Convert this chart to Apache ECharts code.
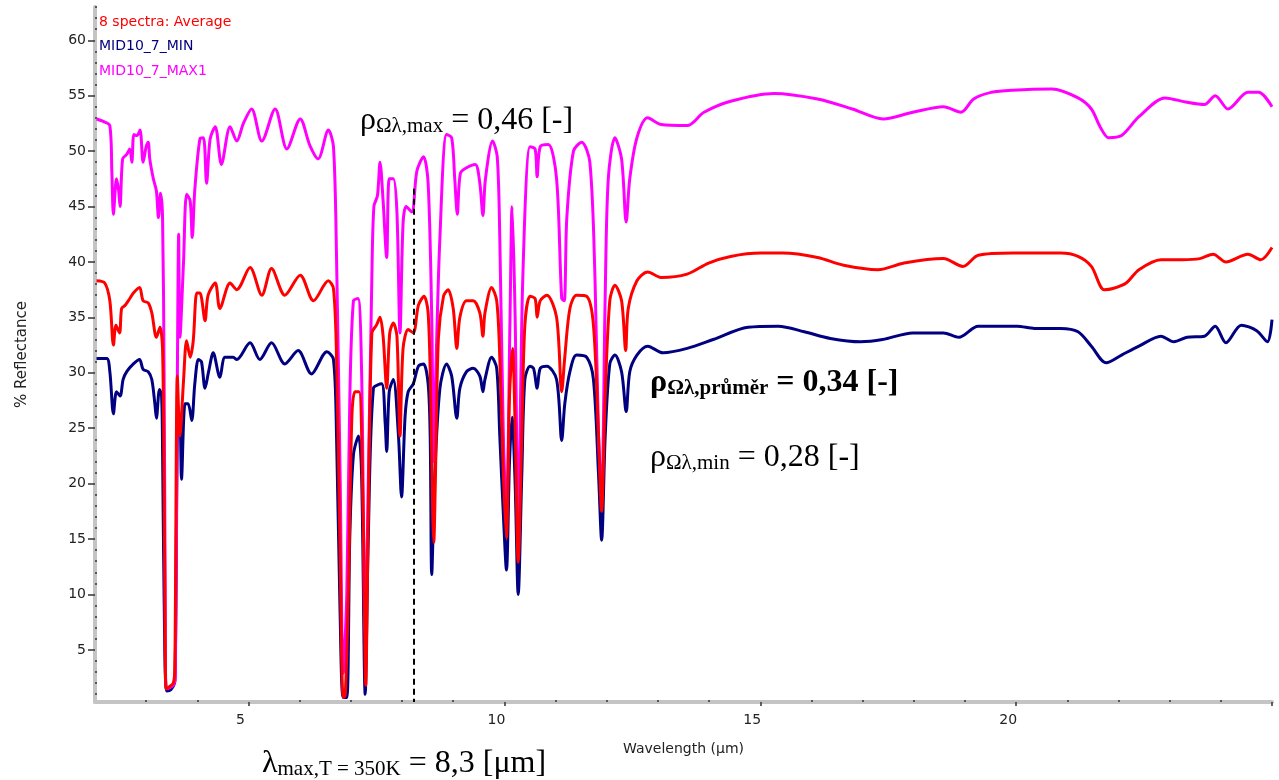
<!DOCTYPE html>
<html>
<head>
<meta charset="utf-8">
<script src="https://cdn.jsdelivr.net/npm/echarts@6/dist/echarts.min.js"></script>
<style>
  html, body { margin: 0; padding: 0; background: #fff; }
  #chart { width: 1279px; height: 780px; }
</style>
</head>
<body>
<div id="chart"></div>
<script>
// spektra: vlnová délka [µm] a % odrazivosti
var avgWl = [2.03, 2.19, 2.29, 2.36, 2.41, 2.48, 2.52, 2.59, 2.68, 2.75, 2.87, 2.94, 3.04, 3.11, 3.2, 3.27, 3.32, 3.35, 3.37, 3.39, 3.46, 3.53, 3.56, 3.61, 3.66, 3.73, 3.79, 3.86, 3.92, 3.99, 4.05, 4.15, 4.21, 4.35, 4.44, 4.64, 4.77, 5.03, 5.26, 5.45, 5.71, 6.01, 6.27, 6.56, 6.66, 6.72, 6.79, 6.85, 6.89, 6.95, 7.02, 7.08, 7.16, 7.24, 7.29, 7.34, 7.41, 7.5, 7.57, 7.63, 7.7, 7.76, 7.83, 7.9, 7.96, 8.02, 8.12, 8.22, 8.32, 8.43, 8.51, 8.56, 8.6, 8.62, 8.65, 8.71, 8.81, 8.9, 9.0, 9.07, 9.13, 9.26, 9.39, 9.52, 9.58, 9.62, 9.75, 9.85, 9.91, 9.98, 10.04, 10.1, 10.16, 10.21, 10.27, 10.34, 10.4, 10.5, 10.6, 10.64, 10.7, 10.83, 11.02, 11.12, 11.18, 11.28, 11.41, 11.61, 11.74, 11.84, 11.9, 11.97, 12.06, 12.16, 12.29, 12.37, 12.42, 12.59, 12.8, 13.06, 13.57, 13.99, 14.42, 15.01, 15.44, 16.12, 16.63, 17.3, 17.81, 18.58, 18.96, 19.26, 19.94, 20.87, 21.21, 21.47, 21.72, 21.89, 22.15, 22.4, 22.83, 23.25, 23.59, 23.85, 24.1, 24.53, 24.78, 25.0];
var avgVal = [38.3, 38.1, 36.5, 32.5, 34.3, 33.6, 35.8, 36.1, 36.7, 37.2, 37.7, 36.5, 36.3, 35.4, 33.2, 34.1, 32.2, 20, 8, 1.5, 1.7, 2.0, 3.3, 29.7, 24.3, 29.3, 32.9, 31.4, 32.9, 37.2, 37.2, 34.7, 37.0, 38.1, 35.8, 38.1, 37.5, 39.5, 37.0, 39.4, 37.0, 38.8, 36.5, 38.3, 37.6, 31.4, 13.6, 0.7, 0.9, 10.0, 26.1, 28.3, 28.3, 17.2, 1.8, 17, 33.6, 34.3, 35.0, 33.3, 28.6, 33.6, 34.5, 33.3, 24.3, 32.2, 33.9, 33.6, 36.1, 36.9, 35.4, 27.9, 17.2, 14.7, 20, 33.1, 36.9, 37.5, 35.8, 32.2, 35.0, 36.5, 36.5, 35.4, 33.3, 35.4, 37.7, 36.5, 31.4, 20.8, 15.1, 27.9, 32.2, 25, 12.9, 24.3, 34.3, 36.9, 36.7, 35.0, 36.5, 37.0, 35.0, 28.3, 31.4, 35.8, 37.0, 36.9, 34.3, 24.3, 17.5, 28, 36.5, 37.9, 36.5, 32.0, 35.8, 38.3, 39.1, 38.6, 38.9, 39.9, 40.5, 40.8, 40.8, 40.4, 39.7, 39.3, 39.9, 40.3, 39.6, 40.6, 40.8, 40.8, 40.5, 39.6, 37.5, 37.6, 38.1, 39.3, 40.2, 40.2, 40.3, 40.7, 40.0, 40.7, 40.2, 41.3];

var minWl = [2.03, 2.23, 2.29, 2.36, 2.42, 2.49, 2.55, 2.62, 2.75, 2.87, 2.94, 3.04, 3.11, 3.17, 3.2, 3.26, 3.3, 3.32, 3.35, 3.4, 3.48, 3.56, 3.61, 3.66, 3.69, 3.76, 3.82, 3.89, 3.95, 4.02, 4.08, 4.15, 4.22, 4.31, 4.44, 4.54, 4.7, 4.77, 5.03, 5.22, 5.45, 5.71, 5.97, 6.23, 6.53, 6.66, 6.72, 6.79, 6.85, 6.92, 6.98, 7.05, 7.15, 7.21, 7.28, 7.34, 7.44, 7.6, 7.67, 7.7, 7.75, 7.83, 7.93, 7.99, 8.06, 8.12, 8.22, 8.32, 8.42, 8.51, 8.55, 8.58, 8.64, 8.74, 8.87, 8.97, 9.07, 9.13, 9.26, 9.39, 9.52, 9.58, 9.62, 9.75, 9.85, 9.91, 9.98, 10.04, 10.1, 10.15, 10.21, 10.27, 10.34, 10.4, 10.5, 10.57, 10.64, 10.7, 10.83, 11.02, 11.12, 11.18, 11.28, 11.41, 11.61, 11.74, 11.84, 11.9, 11.97, 12.06, 12.16, 12.29, 12.38, 12.45, 12.59, 12.8, 13.1, 13.57, 14.08, 14.76, 15.35, 15.86, 16.37, 16.96, 17.39, 17.98, 18.58, 18.88, 19.26, 20.02, 20.36, 20.87, 21.21, 21.47, 21.76, 22.06, 22.4, 22.83, 23.08, 23.34, 23.68, 23.89, 24.1, 24.4, 24.7, 24.91, 25.0];
var minVal = [31.3, 31.3, 30.1, 26.3, 28.3, 27.9, 29.4, 30.1, 30.8, 31.2, 30.3, 30.1, 29.4, 27.2, 25.9, 28.5, 28.0, 23.2, 10, 1.3, 1.4, 2.2, 24.3, 25.0, 20.4, 27.2, 27.2, 25.7, 29.0, 31.2, 31.0, 28.6, 30.1, 31.8, 29.6, 31.4, 31.4, 31.2, 32.7, 31.2, 32.7, 30.8, 32.0, 29.9, 31.9, 31.2, 24.3, 8.2, 0.7, 0.7, 15.4, 22.6, 24.3, 20.8, 1.0, 15, 28.6, 29.0, 25.5, 22.9, 28.3, 29.4, 24.3, 18.8, 26.1, 28.3, 29.0, 30.6, 30.8, 29.0, 24.3, 11.8, 20.8, 28.6, 30.8, 29.7, 25.9, 28.6, 30.1, 30.4, 29.7, 28.3, 29.4, 31.4, 30.4, 24.3, 17.2, 12.2, 22, 26, 20, 10.0, 20.8, 29.4, 30.6, 30.4, 28.6, 30.4, 30.6, 29.4, 23.9, 27.2, 30.1, 31.6, 31.4, 29.4, 20.8, 14.9, 24.3, 30.8, 31.6, 30.1, 26.5, 30.1, 31.6, 32.4, 31.8, 32.2, 33.0, 34.1, 34.2, 33.7, 33.1, 32.8, 33.0, 33.6, 33.6, 33.2, 34.2, 34.2, 34.0, 34.0, 33.7, 32.4, 30.9, 31.6, 32.4, 33.3, 32.8, 33.2, 33.3, 34.2, 32.7, 34.3, 33.8, 32.8, 34.8];

var maxWl = [2.03, 2.15, 2.29, 2.33, 2.36, 2.42, 2.46, 2.49, 2.54, 2.62, 2.68, 2.72, 2.76, 2.82, 2.88, 2.94, 3.0, 3.04, 3.07, 3.14, 3.2, 3.24, 3.28, 3.32, 3.35, 3.37, 3.39, 3.46, 3.53, 3.57, 3.61, 3.635, 3.66, 3.73, 3.79, 3.86, 3.9, 3.95, 4.05, 4.12, 4.18, 4.25, 4.35, 4.47, 4.64, 4.77, 4.9, 5.06, 5.26, 5.52, 5.75, 6.01, 6.2, 6.36, 6.56, 6.66, 6.72, 6.79, 6.85, 6.92, 6.98, 7.05, 7.14, 7.21, 7.28, 7.34, 7.41, 7.45, 7.52, 7.57, 7.63, 7.7, 7.75, 7.83, 7.9, 7.96, 8.02, 8.08, 8.19, 8.29, 8.42, 8.51, 8.58, 8.62, 8.66, 8.74, 8.87, 8.97, 9.03, 9.08, 9.14, 9.26, 9.43, 9.52, 9.58, 9.63, 9.77, 9.86, 9.91, 9.98, 10.04, 10.11, 10.15, 10.21, 10.27, 10.36, 10.5, 10.6, 10.64, 10.7, 10.86, 11.02, 11.12, 11.17, 11.22, 11.35, 11.51, 11.67, 11.77, 11.84, 11.9, 11.97, 12.03, 12.16, 12.29, 12.38, 12.45, 12.59, 12.8, 13.06, 13.57, 13.9, 14.42, 15.27, 16.12, 16.8, 17.4, 17.98, 18.58, 18.92, 19.17, 19.51, 19.94, 20.7, 21.21, 21.47, 21.64, 21.81, 22.06, 22.4, 22.91, 23.34, 23.68, 23.89, 24.14, 24.53, 24.74, 25.0];
var maxVal = [52.9, 52.7, 52.3, 48, 44.3, 47.5, 46.5, 45.0, 49.3, 49.7, 50.2, 49.0, 51.5, 51.4, 51.9, 49.0, 50.4, 50.8, 49.3, 47.5, 46.4, 44.0, 46.2, 44.0, 30, 12, 1.5, 1.6, 1.8, 2.5, 30, 42.5, 33.2, 40, 46.1, 45.5, 42.2, 46.5, 51.1, 51.2, 47.1, 51.1, 52.2, 48.8, 52.2, 50.9, 52.5, 53.8, 50.9, 53.8, 50.2, 52.9, 50.5, 49.3, 51.9, 50.4, 40.4, 20.8, 2.9, 10.0, 27.9, 36.5, 36.7, 30, 6.5, 20, 38.6, 45.0, 46.0, 49.0, 45.5, 40.4, 47.5, 47.5, 44.5, 33.6, 43.5, 45.0, 44.5, 48.2, 49.5, 47.1, 35.0, 22, 30, 42.2, 51.5, 51.2, 47.5, 44.3, 48.0, 48.5, 48.8, 47.1, 44.2, 47.5, 50.9, 49.5, 42.2, 24.3, 17.2, 35, 45.0, 35, 16, 38.6, 50.4, 50.2, 47.7, 50.4, 50.6, 47.5, 36.7, 36.5, 44.0, 50.0, 50.8, 49.0, 38.6, 24.3, 19, 37, 47.5, 51.2, 49.3, 43.6, 47.5, 51.2, 53.0, 52.4, 52.3, 53.5, 54.5, 55.2, 54.7, 53.8, 52.9, 53.5, 54.0, 53.5, 54.7, 55.3, 55.5, 55.6, 54.8, 53.8, 52.2, 51.2, 51.4, 53.1, 54.8, 54.4, 54.2, 55.0, 53.8, 55.3, 55.3, 54.0];

// osy
var xLabels = [5, 10, 15, 20];
var xMajor = [5, 10, 15, 20, 25];
var yLabels = [5, 10, 15, 20, 25, 30, 35, 40, 45, 50, 55, 60];
var lambdaPeak = 8.22;

function pairs(xs, ys) {
    var out = [];
    for (var i = 0; i < xs.length; i++) out.push([xs[i], ys[i]]);
    return out;
}
function minorOf(from, to, major) {
    var out = [];
    for (var v = from; v <= to; v++) if (major.indexOf(v) < 0) out.push(v);
    return out;
}

var chart = echarts.init(document.getElementById('chart'));

var sans = 'DejaVu Sans';
var serif = 'Liberation Serif';
var axisGrey = '#c4c4c4';

function formula(x, y, parts, main, sub, bold) {
    var w = bold ? 'bold' : 'normal';
    return {
        type: 'text', x: x, y: y,
        style: {
            text: '{m|' + parts[0] + '}{s|' + parts[1] + '}{m|' + parts[2] + '}',
            verticalAlign: 'bottom', fill: '#000',
            rich: {
                m: { fontFamily: serif, fontSize: main, fontWeight: w, lineHeight: main, verticalAlign: 'bottom' },
                s: { fontFamily: serif, fontSize: sub, fontWeight: w, lineHeight: sub, verticalAlign: 'bottom' }
            }
        }
    };
}

var option = {
    animation: false,
    backgroundColor: '#fff',
    grid: { left: 95, right: 7, top: 7, bottom: 78 },
    xAxis: [{
        type: 'value',
        min: 2,
        max: 25,
        name: 'Wavelength (µm)',
        nameLocation: 'middle',
        nameGap: 40,
        nameTextStyle: { fontFamily: sans, fontSize: 14, color: '#222' },
        axisLine: { lineStyle: { color: axisGrey, width: 4 } },
        axisTick: { customValues: xMajor, length: 4, lineStyle: { color: '#333', width: 1.5 } },
        axisLabel: {
            customValues: xLabels, margin: 11, padding: [0, 16, 0, 0],
            fontFamily: sans, fontSize: 14, color: '#222'
        },
        splitLine: { show: false }
    }, {
        // jen vedlejší dílky
        type: 'value', position: 'bottom', min: 2, max: 25,
        axisLine: { show: false },
        axisTick: { customValues: minorOf(3, 24, xMajor), inside: true, length: 2, lineStyle: { color: '#333', width: 1.5 } },
        axisLabel: { show: false },
        splitLine: { show: false }
    }],
    yAxis: [{
        type: 'value',
        min: 0.3,
        max: 63,
        name: '% Reflectance',
        nameLocation: 'middle',
        nameGap: 65,
        nameTextStyle: { fontFamily: sans, fontSize: 15, color: '#222' },
        axisLine: { lineStyle: { color: axisGrey, width: 4 } },
        axisTick: { customValues: yLabels, length: 7, lineStyle: { color: '#333', width: 1.5 } },
        axisLabel: {
            customValues: yLabels, margin: 9,
            fontFamily: sans, fontSize: 14, color: '#222'
        },
        splitLine: { show: false }
    }, {
        type: 'value', position: 'left', min: 0.3, max: 63,
        axisLine: { show: false },
        axisTick: { customValues: minorOf(1, 63, yLabels), inside: true, length: 2, lineStyle: { color: '#333', width: 1.5 } },
        axisLabel: { show: false },
        splitLine: { show: false }
    }],
    series: [{
        name: 'MID10_7_MIN',
        type: 'line',
        data: pairs(minWl, minVal),
        showSymbol: false,
        smooth: 0.3,
        lineStyle: { color: '#000080', width: 3 },
        itemStyle: { color: '#000080' },
        z: 2
    }, {
        name: 'MID10_7_MAX1',
        type: 'line',
        data: pairs(maxWl, maxVal),
        showSymbol: false,
        smooth: 0.3,
        lineStyle: { color: '#ff00ff', width: 3 },
        itemStyle: { color: '#ff00ff' },
        z: 3
    }, {
        name: '8 spectra: Average',
        type: 'line',
        data: pairs(avgWl, avgVal),
        showSymbol: false,
        smooth: 0.3,
        lineStyle: { color: '#ff0000', width: 3 },
        itemStyle: { color: '#ff0000' },
        z: 4,
        markLine: {
            silent: true,
            symbol: 'none',
            label: { show: false },
            lineStyle: { color: '#000', type: [6, 4], width: 2 },
            data: [[{ coord: [lambdaPeak, 46.6] }, { coord: [lambdaPeak, 0.3] }]]
        }
    }],
    graphic: [
        // legenda
        { type: 'text', left: 99, top: 15, style: { text: '8 spectra: Average', fill: '#ff0000', font: '14px "DejaVu Sans"' } },
        { type: 'text', left: 99, top: 39, style: { text: 'MID10_7_MIN', fill: '#000080', font: '14px "DejaVu Sans"' } },
        { type: 'text', left: 99, top: 64, style: { text: 'MID10_7_MAX1', fill: '#ff00ff', font: '14px "DejaVu Sans"' } },
        // popisky
        formula(360, 137, ['ρ', 'Ωλ,max', ' = 0,46 [-]'], 32, 21, false),
        formula(650, 399, ['ρ', 'Ωλ,průměr', ' = 0,34 [-]'], 32, 21, true),
        formula(650, 474, ['ρ', 'Ωλ,min', ' = 0,28 [-]'], 32, 21, false),
        formula(262, 780, ['λ', 'max,T = 350K', ' = 8,3 [μm]'], 32, 21, false)
    ]
};
chart.setOption(option);
window.onresize = chart.resize;
</script>
</body>
</html>
